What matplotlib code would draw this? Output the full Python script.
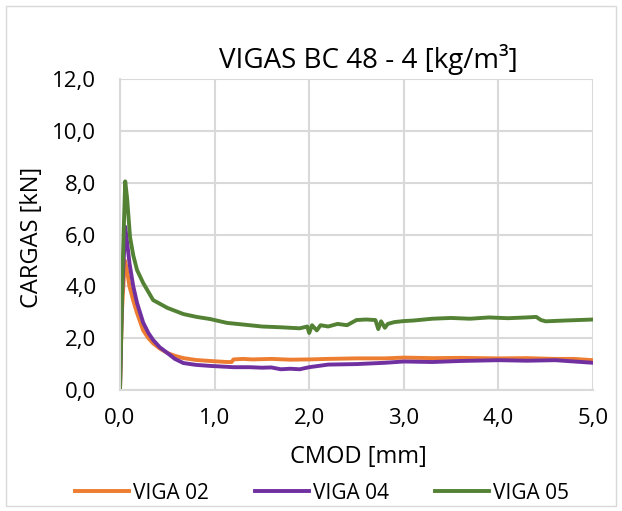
import matplotlib.pyplot as plt
from matplotlib.ticker import FuncFormatter
from matplotlib.patches import Rectangle

# datos (CMOD en mm, carga en kN)
x02 = [0.0, 0.02, 0.05, 0.07, 0.1, 0.14, 0.18, 0.245, 0.3, 0.35, 0.42, 0.5, 0.58, 0.67, 0.8, 0.95, 1.13, 1.18, 1.2, 1.3, 1.4, 1.6, 1.8, 2.0, 2.2, 2.5, 2.8, 3.0, 3.3, 3.6, 4.0, 4.3, 4.6, 4.8, 5.0]
y02 = [0.0, 3.0, 5.0, 4.7, 4.0, 3.45, 2.97, 2.3, 2.0, 1.8, 1.6, 1.43, 1.32, 1.23, 1.16, 1.12, 1.08, 1.08, 1.18, 1.2, 1.18, 1.2, 1.17, 1.18, 1.2, 1.22, 1.22, 1.25, 1.23, 1.24, 1.22, 1.23, 1.2, 1.2, 1.15]

x04 = [0.0, 0.02, 0.055, 0.075, 0.1, 0.14, 0.18, 0.245, 0.3, 0.35, 0.42, 0.5, 0.58, 0.67, 0.8, 0.95, 1.1, 1.2, 1.37, 1.5, 1.6, 1.7, 1.8, 1.9, 2.0, 2.2, 2.5, 2.8, 3.0, 3.3, 3.6, 4.0, 4.3, 4.6, 4.8, 5.0]
y04 = [0.0, 3.5, 6.3, 5.7, 4.9, 4.0, 3.36, 2.6, 2.2, 1.93, 1.65, 1.43, 1.2, 1.04, 0.97, 0.93, 0.9, 0.88, 0.88, 0.86, 0.87, 0.8, 0.82, 0.8, 0.88, 0.98, 1.0, 1.05, 1.1, 1.08, 1.12, 1.15, 1.13, 1.15, 1.1, 1.05]

x05 = [0.0, 0.03, 0.055, 0.075, 0.106, 0.14, 0.18, 0.245, 0.35, 0.5, 0.67, 0.81, 0.95, 1.13, 1.37, 1.5, 1.7, 1.9, 1.98, 2.0, 2.03, 2.08, 2.12, 2.2, 2.3, 2.4, 2.5, 2.6, 2.7, 2.73, 2.76, 2.8, 2.83, 2.9, 3.0, 3.1, 3.3, 3.5, 3.7, 3.9, 4.1, 4.3, 4.4, 4.45, 4.5, 4.7, 5.0]
y05 = [0.0, 5.0, 8.05, 7.4, 5.9, 5.2, 4.63, 4.13, 3.47, 3.17, 2.93, 2.82, 2.74, 2.59, 2.5, 2.45, 2.42, 2.38, 2.45, 2.2, 2.5, 2.3, 2.5, 2.45, 2.55, 2.5, 2.7, 2.72, 2.7, 2.35, 2.65, 2.4, 2.55, 2.62, 2.66, 2.68, 2.75, 2.78, 2.75, 2.8, 2.77, 2.8, 2.82, 2.7, 2.65, 2.68, 2.72]

W, H = 622, 511
fig = plt.figure(figsize=(W / 100, H / 100), dpi=100)
plt.rcParams['font.family'] = ['Open Sans', 'DejaVu Sans']
ax = fig.add_axes([120 / W, 1 - 390 / H, 473 / W, 311 / H])

ax.plot(x02, y02, color='#ED7D31', lw=2.8, label='VIGA 02')
ax.plot(x04, y04, color='#7030A0', lw=2.8, label='VIGA 04')
ax.plot(x05, y05, color='#548235', lw=2.8, label='VIGA 05')

ax.set_xlim(0, 5)
ax.set_ylim(0, 12)
ax.set_xticks([0, 1, 2, 3, 4, 5])
ax.set_yticks([0, 2, 4, 6, 8, 10, 12])
coma = FuncFormatter(lambda v, p: f'{v:.1f}'.replace('.', ','))
ax.xaxis.set_major_formatter(coma)
ax.yaxis.set_major_formatter(coma)
ax.tick_params(length=0, labelsize=16)
ax.tick_params(axis='x', pad=13)
ax.tick_params(axis='y', pad=17)
ax.grid(True, color='#d9d9d9', lw=1.5)
ax.set_axisbelow(True)
for s in ['top', 'right']:
    ax.spines[s].set_visible(False)
for s in ['left', 'bottom']:
    ax.spines[s].set_color('#d9d9d9')
    ax.spines[s].set_linewidth(1.5)

fig.text(368 / W, 1 - 68 / H, 'VIGAS BC 48 - 4 [kg/m³]', fontsize=20,
         ha='center', va='baseline')
fig.text(358 / W, 1 - 457 / H, 'CMOD [mm]', fontsize=17, ha='center', va='center')
fig.text(32 / W, 1 - 237 / H, 'CARGAS [kN]', fontsize=17, rotation=90,
         ha='center', va='center')

fig.legend(loc='center', bbox_to_anchor=(322 / W, 1 - 493 / H), ncol=3, frameon=False,
           fontsize=15, handlelength=2.6, columnspacing=2.2, handletextpad=0.2)

fig.patches.append(Rectangle((6 / W, 5 / H), 610 / W, 500 / H, transform=fig.transFigure,
                             fill=False, edgecolor='#d9d9d9', lw=1))

plt.savefig('out.png', dpi=100)
